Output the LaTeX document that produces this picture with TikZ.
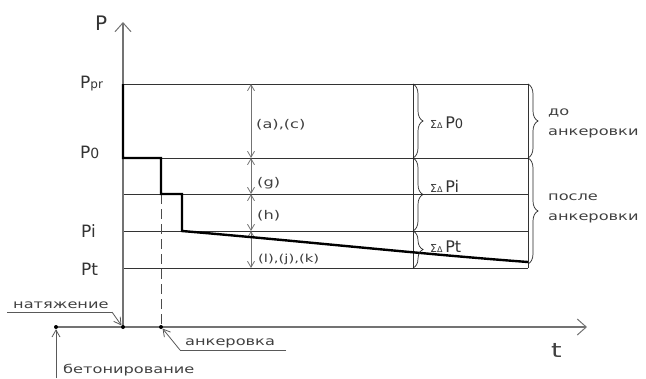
\documentclass[tikz,border=0pt]{standalone}
\usepackage{fontspec}
\setmainfont{DejaVu Sans}
\newfontfamily\cad[FakeStretch=1.35]{DejaVu Sans}
\usetikzlibrary{arrows.meta,decorations.pathreplacing}
\begin{document}
\begin{tikzpicture}[x=1pt,y=-1pt,
  gline/.style={draw=black!80,line width=0.8pt},
  axisline/.style={draw=black!55,line width=1.4pt,-{Straight Barb[length=9pt,width=16pt,line width=1pt]}},
  dimline/.style={draw=black!55,line width=0.9pt,{Straight Barb[length=6pt,width=7pt,line width=0.8pt]}-{Straight Barb[length=6pt,width=7pt,line width=0.8pt]}},
  leader/.style={draw=black!65,line width=0.8pt,-{Straight Barb[length=7pt,width=8pt,line width=0.8pt]}},
  loadline/.style={line width=2.4pt,black},
  bracedec/.style={draw=black!85,line width=0.7pt,decorate,decoration={brace,amplitude=10pt}},
  lbl/.style={inner sep=0pt,anchor=base west,text=black!75,font=\cad\fontsize{12}{12}\selectfont},
  biglbl/.style={inner sep=0pt,anchor=base west,text=black!80,font=\fontsize{17}{17}\selectfont},
  sumlbl/.style={biglbl,font=\fontsize{16}{16}\selectfont},
  dotmark/.style={circle,fill=black,inner sep=0pt,minimum size=4pt}
]
\useasboundingbox (0,0) rectangle (646,378);
% coordinates
\foreach \n/\yy in {pr/84,z/158,g/194,i/231,t/268}{
  \coordinate (L\n) at (123,\yy);
  \coordinate (R\n) at (528,\yy);
  \coordinate (D\n) at (251,\yy);
  \coordinate (M\n) at (413,\yy);
}
\coordinate (Rb) at (528,264);
\coordinate (O) at (123,327);
\coordinate (Ytop) at (123,22);
\coordinate (Xend) at (587,327);
\coordinate (Bo) at (56,327);
\coordinate (An) at (161,327);
\coordinate (S1) at (161,158);
\coordinate (S2) at (161,194);
\coordinate (S3) at (182,194);
\coordinate (S4) at (182,231);
\coordinate (Lend) at (528,262);
% grid
\foreach \n in {pr,z,g,i,t}{ \draw[gline] (L\n) -- (R\n); }
\draw[gline] (Mpr) -- (Mt);
\draw[gline] (Rpr) -- (Rt);
% axes
\draw[axisline] (O) -- (Ytop);
\draw[axisline] (Bo) -- (Xend);
% dashed anchoring line
\draw[draw=black!70,line width=0.9pt,dash pattern=on 10pt off 5pt] (S2) -- (An);
% dimension arrows
\draw[dimline] (Dpr) -- (Dz);
\draw[dimline] (Dz) -- (Dg);
\draw[dimline] (Dg) -- (Di);
\draw[dimline] (Di) -- (Dt);
% load curve
\draw[loadline] (Lpr) -- (Lz) -- (S1) -- (S2) -- (S3) -- (S4) .. controls (300,241) and (420,254) .. (Lend);
% braces
\draw[bracedec] (Mpr) -- (Mz);
\draw[bracedec] (Mz) -- (Mi);
\draw[bracedec] (Mi) -- (Mt);
\draw[bracedec] (Rpr) -- (Rz);
\draw[bracedec] (Rz) -- (Rb);
% dots
\node[dotmark] (dO) at (O) {};
\node[dotmark] (dA) at (An) {};
\node[dotmark] (dB) at (Bo) {};
% axis labels
\node[biglbl,font=\fontsize{20}{20}\selectfont] (pax) at (95,30) {P};
\node[lbl,font=\cad\fontsize{20}{20}\selectfont] (tax) at (551,357) {t};
\node[biglbl] (ppr) at (80,88) {P{\fontsize{12}{12}\selectfont pr}};
\node[biglbl] (p0) at (80,158) {P{\fontsize{14}{14}\selectfont 0}};
\node[biglbl] (pi) at (81,237) {Pi};
\node[biglbl] (pt) at (81,275) {Pt};
% dimension labels
\node[lbl] (ac) at (256,128) {(a),(c)};
\node[lbl] (g) at (257,186) {(g)};
\node[lbl] (h) at (257,219) {(h)};
\node[lbl,font=\cad\fontsize{11}{11}\selectfont] (ljk) at (258,262) {(l),(j),(k)};
% sum labels
\node[sumlbl] (s0) at (430,128) {{\fontsize{11}{11}\selectfont Σ}{\fontsize{8}{8}\selectfont Δ}\,P{\fontsize{13}{13}\selectfont 0}};
\node[sumlbl] (si) at (430,192) {{\fontsize{11}{11}\selectfont Σ}{\fontsize{8}{8}\selectfont Δ}\,Pi};
\node[sumlbl] (st) at (430,252) {{\fontsize{11}{11}\selectfont Σ}{\fontsize{8}{8}\selectfont Δ}\,Pt};
% right labels
\node[lbl] (do1) at (548,115) {до};
\node[lbl] (do2) at (548,135) {анкеровки};
\node[lbl] (po1) at (548,200) {после};
\node[lbl] (po2) at (548,220) {анкеровки};
% bottom labels
\node[lbl] (nat) at (13,308) {натяжение};
\node[lbl] (ank) at (185,345) {анкеровка};
\node[lbl] (bet) at (63,373) {бетонирование};
\coordinate (n1) at (7,312);
\coordinate (n2) at (112,312);
\coordinate (a1) at (286,350);
\coordinate (a2) at (180,350);
\coordinate (b1) at (56,378);
\draw[draw=black!65,line width=0.8pt] (n1) -- (n2);
\draw[leader] (n2) -- (dO.north west);
\draw[draw=black!65,line width=0.8pt] (a1) -- (a2);
\draw[leader] (a2) -- (dA.south east);
\draw[leader] (b1) -- (dB.south);
\end{tikzpicture}
\end{document}
